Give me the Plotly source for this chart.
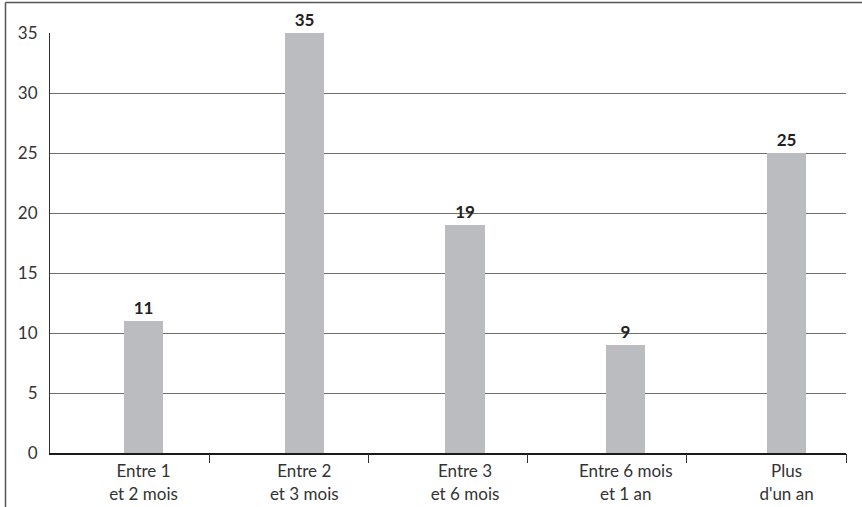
import plotly.graph_objects as go

# Durée d'attente : répartition en pourcentage
categories = ["Entre 1<br>et 2 mois", "Entre 2<br>et 3 mois", "Entre 3<br>et 6 mois",
              "Entre 6 mois<br>et 1 an", "Plus<br>d'un an"]
values = [11, 35, 19, 9, 25]
y_ticks = [0, 5, 10, 15, 20, 25, 30, 35]

W, H = 862, 507
L, R, T, B = 50, 16, 33, 54
pw, ph = W - L - R, H - T - B

positions = list(range(len(categories)))
boundaries = list(range(1, len(categories) + 1))

fig = go.Figure()
fig.add_trace(go.Bar(
    x=positions, y=values, width=0.243,
    marker=dict(color="#BBBCC0", line=dict(width=0)),
    text=[str(v) for v in values], textposition="outside",
    textfont=dict(family="Lato", size=17, color="#222222", weight="bold"),
    cliponaxis=False, hoverinfo="skip",
))
# invisible trace that anchors the category-boundary tick axis
fig.add_trace(go.Scatter(x=boundaries, y=[0] * len(boundaries), xaxis="x2",
                         mode="markers", marker=dict(opacity=0), hoverinfo="skip",
                         showlegend=False))

fig.update_layout(
    width=W, height=H,
    margin=dict(l=L, r=R, t=T, b=B, pad=0),
    paper_bgcolor="white", plot_bgcolor="white",
    showlegend=False, bargap=0,
    font=dict(family="Lato", color="#333333"),
    xaxis=dict(
        range=[-0.5816, 4.370], tickmode="array", tickvals=positions, ticktext=categories,
        ticks="", showgrid=False, zeroline=False, automargin=False,
        showline=True, linecolor="#1a1a1a", linewidth=2,
        tickfont=dict(family="Lato", size=17, color="#333333"),
        ticklabelstandoff=2,
    ),
    xaxis2=dict(
        range=[0, len(categories)], overlaying="x", anchor="y", side="bottom",
        tickmode="array", tickvals=boundaries, showticklabels=False,
        ticks="outside", ticklen=9, tickwidth=1, tickcolor="#333333",
        showgrid=False, zeroline=False, showline=False, automargin=False,
    ),
    yaxis=dict(
        range=[0, 35], tickmode="array", tickvals=y_ticks, automargin=False,
        showgrid=True, gridcolor="#6f6f6f", gridwidth=1,
        zeroline=False, showline=True, linecolor="#333333", linewidth=1,
        ticks="", ticklabelstandoff=8,
        tickfont=dict(family="Lato", size=17, color="#333333"),
    ),
    shapes=[
        # outer frame: left and top edges
        dict(type="line", xref="paper", yref="paper",
             x0=(5.5 - L) / pw, x1=(5.5 - L) / pw,
             y0=-(B + 5) / ph, y1=1 + (T - 2.5) / ph,
             line=dict(color="#555555", width=1.5)),
        dict(type="line", xref="paper", yref="paper",
             x0=(5.5 - L) / pw, x1=(W - L + 5) / pw,
             y0=1 + (T - 2.5) / ph, y1=1 + (T - 2.5) / ph,
             line=dict(color="#555555", width=1.5)),
    ],
)

fig.write_html("out.html")
